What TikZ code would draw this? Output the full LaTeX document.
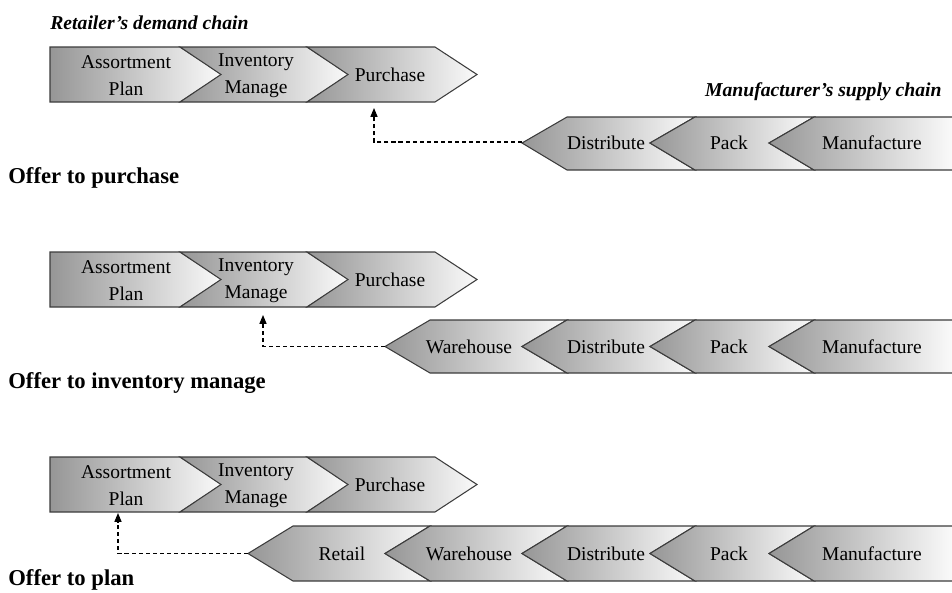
\documentclass[tikz,border=0pt]{standalone}
\usepackage{fontspec}
\setmainfont{Liberation Serif}
\usetikzlibrary{arrows.meta}
\definecolor{chdark}{HTML}{969696}
\definecolor{chlight}{HTML}{FAFAFA}
\definecolor{chline}{HTML}{3C3C3C}

\begin{document}
\begin{tikzpicture}[x=0.02cm, y=-0.02cm,
    chev/.style={draw=chline, line width=0.6pt, left color=chdark, right color=chlight},
    lbl/.style={font=\fontsize{11.1}{15.4}\selectfont, align=center, inner sep=0pt},
    offer/.style={font=\fontsize{12.9}{15}\selectfont\bfseries, anchor=west, inner sep=0pt},
    chaintitle/.style={font=\fontsize{11.2}{13}\selectfont\bfseries\itshape, inner sep=0pt},
    link/.style={line width=0.6pt, dash pattern=on 2.3pt off 1.7pt, -{Triangle[length=5pt,width=4pt]}}]
  \useasboundingbox (0,0) rectangle (952,592);

  % titles
  \node[chaintitle, anchor=west] (rtitle) at (50,23) {Retailer's demand chain};
  \node[chaintitle, anchor=east] (mtitle) at (942,92) {Manufacturer's supply chain};

  % retailer's demand chain, same in all three rows
  \foreach \t [count=\r] in {47,252,457} {
    \foreach \a/\b/\n in {50/180/0,180/307/41,307/435/41}
      \draw[chev] (\a,\t) -- (\b,\t) -- (\b+42,\t+27.5) -- (\b,\t+55) -- (\a,\t+55) -- (\a+\n,\t+27.5) -- cycle;
    \node[lbl] (assort\r) at (126,\t+29) {Assortment\\Plan};
    \node[lbl] (invent\r) at (256,\t+29) {Inventory\\Manage};
    \node[lbl] (purch\r) at (390,\t+28) {Purchase};
  }

  % offer to purchase
  \foreach \p/\q/\nm/\txt/\cx in {522/650/dist1/Distribute/606, 650/769/pack1/Pack/729} {
    \draw[chev] (\p,143) -- (\p+45,117) -- (\q+45,117) -- (\q,143) -- (\q+45,170) -- (\p+45,170) -- cycle;
    \node[lbl] (\nm) at (\cx,143) {\txt};
  }
  \draw[chev] (769,143) -- (814,117) -- (953,117) -- (953,170) -- (814,170) -- cycle;
  \node[lbl] (manuf1) at (872,143) {Manufacture};
  \coordinate (tip1) at (522,142);
  \coordinate (aim1) at (374,108);
  \draw[link] (tip1) -| (aim1);
  \node[offer] (offer1) at (8,178) {Offer to purchase};

  % offer to inventory manage
  \foreach \p/\q/\nm/\txt/\cx in {385/522/wareh2/Warehouse/469, 522/650/dist2/Distribute/606, 650/769/pack2/Pack/729} {
    \draw[chev] (\p,346.5) -- (\p+45,320) -- (\q+45,320) -- (\q,346.5) -- (\q+45,373) -- (\p+45,373) -- cycle;
    \node[lbl] (\nm) at (\cx,346.5) {\txt};
  }
  \draw[chev] (769,346.5) -- (814,320) -- (953,320) -- (953,373) -- (814,373) -- cycle;
  \node[lbl] (manuf2) at (872,346.5) {Manufacture};
  \coordinate (tip2) at (385,346.5);
  \coordinate (aim2) at (263,315);
  \draw[link] (tip2) -| (aim2);
  \node[offer] (offer2) at (8,383) {Offer to inventory manage};

  % offer to plan
  \foreach \p/\q/\nm/\txt/\cx in {248/385/retail3/Retail/342, 385/522/wareh3/Warehouse/469, 522/650/dist3/Distribute/606, 650/769/pack3/Pack/729} {
    \draw[chev] (\p,553.5) -- (\p+45,526) -- (\q+45,526) -- (\q,553.5) -- (\q+45,581) -- (\p+45,581) -- cycle;
    \node[lbl] (\nm) at (\cx,553.5) {\txt};
  }
  \draw[chev] (769,553.5) -- (814,526) -- (953,526) -- (953,581) -- (814,581) -- cycle;
  \node[lbl] (manuf3) at (872,553.5) {Manufacture};
  \coordinate (tip3) at (248,553.5);
  \coordinate (aim3) at (118,513);
  \draw[link] (tip3) -| (aim3);
  \node[offer] (offer3) at (8,580) {Offer to plan};
\end{tikzpicture}
\end{document}
